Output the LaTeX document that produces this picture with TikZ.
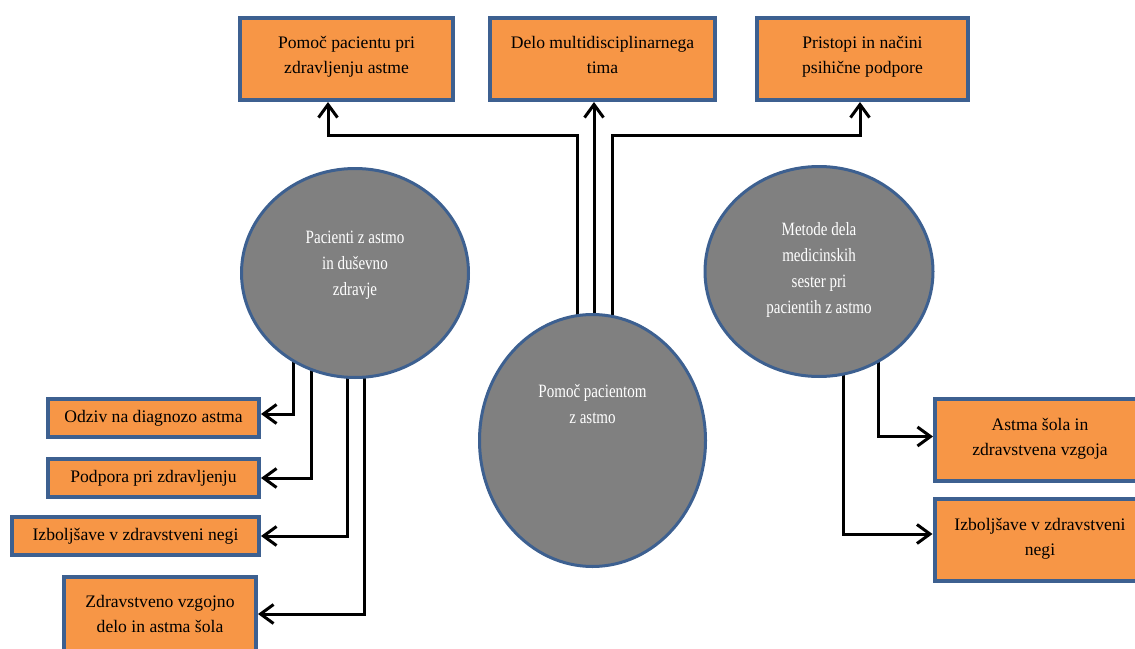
\documentclass[tikz,border=0pt]{standalone}
\usepackage{fontspec}
\setmainfont{Liberation Serif}
\newfontfamily\circfont[FakeStretch=0.8]{Liberation Serif}
\usetikzlibrary{shapes.geometric,arrows.meta,backgrounds}
\definecolor{boxorange}{HTML}{F79646}
\definecolor{edgeblue}{HTML}{3D6090}
\definecolor{circgray}{HTML}{808080}

\begin{document}
\begin{tikzpicture}[
    x=0.5pt, y=-0.5pt,
    box/.style={rectangle, draw=edgeblue, line width=2pt, fill=boxorange, align=center, inner sep=1pt, font=\fontsize{8.8}{12.5}\selectfont},
    topbox/.style={box, minimum height=41pt},
    smallbox/.style={box, minimum height=19pt},
    circ/.style={ellipse, draw=edgeblue, line width=1.5pt, fill=circgray, inner sep=0pt},
    circtext/.style={text=white, align=center, font=\circfont\fontsize{9.4}{13}\selectfont},
    arrow/.style={-{Straight Barb[length=6.5pt,width=9.5pt]}, line width=1.5pt}
]
\useasboundingbox (0,0) rectangle (1135,648);

% Top row
\node[topbox, minimum width=106.5pt] (care) at (346.5,59) {Pomoč pacientu pri\\zdravljenju astme\rule[-4pt]{0pt}{0pt}};
\node[topbox, minimum width=112.5pt] (team) at (602.5,59) {Delo multidisciplinarnega\\tima\rule[-4pt]{0pt}{0pt}};
\node[topbox, minimum width=105.5pt] (psych) at (862.5,59) {Pristopi in načini\\psihične podpore\rule[-4pt]{0pt}{0pt}};

% Circles
\node[circ, minimum width=113.5pt, minimum height=104.5pt,
      label={[circtext, yshift=4pt]center:{Pacienti z astmo\\in duševno\\zdravje}}] (mind) at (355,273) {};
\node[circ, minimum width=114pt, minimum height=105pt,
      label={[circtext, yshift=1pt]center:{Metode dela\\medicinskih\\sester pri\\pacientih z astmo}}] (nurse) at (819,271.5) {};
\node[circ, minimum width=113pt, minimum height=126pt,
      label={[circtext, yshift=18pt]center:{Pomoč pacientom\\z astmo}}] (help) at (592.5,440.5) {};

% Left column
\node[smallbox, minimum width=105.5pt] (diag) at (153.5,418) {Odziv na diagnozo astma};
\node[smallbox, minimum width=105.5pt] (supp) at (153.5,478) {Podpora pri zdravljenju};
\node[smallbox, minimum width=123.5pt] (impL) at (135.5,536) {Izboljšave v zdravstveni negi};
\node[topbox, minimum width=96pt] (edu) at (160,618) {Zdravstveno vzgojno\\delo in astma šola\rule[-4pt]{0pt}{0pt}};

% Right column
\node[topbox, minimum width=105pt] (school) at (1040,439.5) {Astma šola in\\zdravstvena vzgoja\rule[-3pt]{0pt}{0pt}};
\node[topbox, minimum width=105.5pt] (impR) at (1040,540) {Izboljšave v zdravstveni\\negi\rule[-3pt]{0pt}{0pt}};

% Bends
\coordinate (bendL) at (328,135);
\coordinate (bendR) at (860,135);

% Connections
\begin{scope}[on background layer]
\draw[arrow] (help.center -| 577,0) |- (bendL) -- (care.south -| bendL);
\draw[arrow] (help.center -| 594,0) -- (team.south -| 594,0);
\draw[arrow] (help.center -| 612,0) |- (bendR) -- (psych.south -| bendR);
\draw[arrow] (mind.center -| 293,0) |- ([yshift=2pt]diag.east);
\draw[arrow] (mind.center -| 311,0) |- (supp.east);
\draw[arrow] (mind.center -| 347,0) |- (impL.east);
\draw[arrow] (mind.center -| 364,0) |- ([yshift=2pt]edu.east);
\draw[arrow] (nurse.center -| 878,0) |- ([yshift=1.5pt]school.west);
\draw[arrow] (nurse.center -| 843,0) |- ([yshift=3pt]impR.west);
\end{scope}

\end{tikzpicture}
\end{document}
